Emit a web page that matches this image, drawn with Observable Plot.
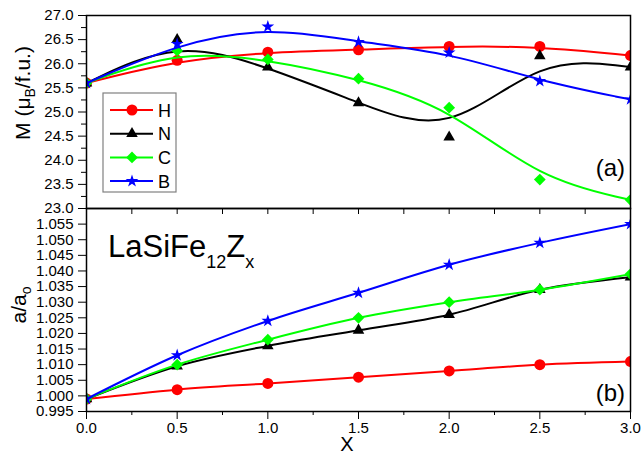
<!DOCTYPE html>
<html><head><meta charset="utf-8">
<script src="https://cdn.jsdelivr.net/npm/d3@7"></script>
<script src="https://cdn.jsdelivr.net/npm/@observablehq/plot@0.6"></script>
<style>
html,body{margin:0;padding:0;background:#fff;}
#chart{position:relative;width:641px;height:454px;overflow:hidden;font-family:"Liberation Sans",Arial,Helvetica,sans-serif;}
#chart svg{position:absolute;left:0;overflow:visible;}
</style></head><body><div id="chart"></div>
<script>
// ---- data ----
const xValues = [0, 0.5, 1.0, 1.5, 2.0, 2.5, 3.0];
const series = ["H", "N", "C", "B"];
// panel (a): magnetic moment M (muB/f.u.)
const mH = [25.60, 26.07, 26.24, 26.29, 26.36, 26.36, 26.17];
const mN = [25.60, 26.50, 25.93, 25.19, 24.48, 26.16, 25.93];
const mC = [25.60, 26.27, 26.09, 25.69, 25.09, 23.60, 23.18];
const mB = [25.60, 26.41, 26.77, 26.45, 26.23, 25.64, 25.26];
// panel (b): a/a0
const aH = [0.999, 1.002, 1.004, 1.006, 1.008, 1.010, 1.011];
const aN = [0.999, 1.0095, 1.016, 1.021, 1.026, 1.034, 1.038];
const aC = [0.999, 1.010, 1.018, 1.025, 1.030, 1.034, 1.039];
const aB = [0.999, 1.013, 1.024, 1.033, 1.042, 1.049, 1.055];
// ticks
const xTicks = [0, 0.5, 1.0, 1.5, 2.0, 2.5, 3.0];
const xMinorTicks = [0.25, 0.75, 1.25, 1.75, 2.25, 2.75];
const mTicks = [23.0, 23.5, 24.0, 24.5, 25.0, 25.5, 26.0, 26.5, 27.0];
const mMinorTicks = [23.25, 23.75, 24.25, 24.75, 25.25, 25.75, 26.25, 26.75];
const aTicks = [0.995, 1.000, 1.005, 1.010, 1.015, 1.020, 1.025, 1.030, 1.035, 1.040, 1.045, 1.050, 1.055];

// ---- styles ----
const colors = ["#ff0000", "#000000", "#00ff00", "#0000ff"];
const symbols = ["circle", "triangle", "diamond2", "star"];
const dotR = [5.5, 4.3, 5.3, 4.0];
const FONT = '"Liberation Sans", Arial, Helvetica, sans-serif';

function toRows(arrs) {
  const rows = [];
  series.forEach((s, i) => arrs[i].forEach((v, j) => rows.push({series: s, x: xValues[j], y: v})));
  return rows;
}
const topData = toRows([mH, mN, mC, mB]);
const botData = toRows([aH, aN, aC, aB]);

function seriesMarks(data, curve) {
  const marks = [];
  series.forEach((s, i) => {
    const d = data.filter(r => r.series === s);
    marks.push(Plot.line(d, {x: "x", y: "y", stroke: "series", curve, strokeWidth: 2, clip: true}));
    marks.push(Plot.dot(d, {x: "x", y: "y", fill: "series", symbol: "series", r: dotR[i], clip: true}));
  });
  return marks;
}

const common = {
  width: 641, marginLeft: 86, marginRight: 11,
  x: {domain: [0, 3]},
  color: {domain: series, range: colors},
  symbol: {domain: series, range: symbols},
  style: {fontFamily: FONT, fontSize: "15px", color: "#000", background: "transparent", overflow: "visible"}
};

const topSvg = Plot.plot({
  ...common, height: 208, marginTop: 15, marginBottom: 0,
  y: {domain: [23, 27]},
  marks: [
    ...seriesMarks(topData, "basis"),
    Plot.axisY({ticks: mTicks, tickSize: 8, tickPadding: 5, tickFormat: d3.format(".1f"), label: null, fontSize: 15}),
    Plot.axisY({ticks: mMinorTicks, tickSize: 5, tickFormat: () => "", label: null}),
    Plot.axisX({ticks: xTicks, tickSize: 6, tickFormat: () => "", label: null}),
    Plot.axisX({ticks: xMinorTicks, tickSize: 6, tickFormat: () => "", label: null}),
    Plot.frame({stroke: "#000", strokeWidth: 1.5})
  ]
});

const botSvg = Plot.plot({
  ...common, height: 246, marginTop: 0, marginBottom: 43,
  y: {domain: [0.995, 1.060]},
  marks: [
    ...seriesMarks(botData, "catmull-rom"),
    Plot.axisY({ticks: aTicks, tickSize: 8, tickPadding: 5, tickFormat: d3.format(".3f"), label: null, fontSize: 15}),
    Plot.axisX({ticks: xTicks, tickSize: 8, tickPadding: 3, tickFormat: d3.format(".1f"), label: null, fontSize: 15}),
    Plot.axisX({ticks: xMinorTicks, tickSize: 4, tickFormat: () => "", label: null}),
    Plot.frame({stroke: "#000", strokeWidth: 1.5})
  ]
});

const chart = document.getElementById("chart");
topSvg.style.top = "0px";
botSvg.style.top = "208px";
chart.appendChild(botSvg);
chart.appendChild(topSvg);

// ---- annotations ----
const ts = d3.select(topSvg);
const mt = ts.append("text").attr("transform", "translate(30,93) rotate(-90)")
  .attr("text-anchor", "middle").attr("font-size", 21).attr("fill", "#000");
mt.append("tspan").text("M (\u03bc");
mt.append("tspan").attr("font-size", 14).attr("dy", 5).text("B");
mt.append("tspan").attr("dy", -5).text("/f.u.)");
ts.append("text").attr("x", 625).attr("y", 176).attr("text-anchor", "end")
  .attr("font-size", 24).attr("fill", "#000").text("(a)");

// legend
const lg = ts.append("g").attr("transform", "translate(103,93)");
lg.append("rect").attr("width", 73).attr("height", 99).attr("fill", "#fff")
  .attr("stroke", "#808080").attr("stroke-width", 1.2);
const symMap = {circle: d3.symbolCircle, triangle: d3.symbolTriangle, diamond2: d3.symbolDiamond2, star: d3.symbolStar};
series.forEach((s, i) => {
  const g = lg.append("g").attr("transform", `translate(0,${17 + i * 23.7})`);
  g.append("line").attr("x1", 7).attr("x2", 50).attr("stroke", colors[i]).attr("stroke-width", 2);
  g.append("path").attr("transform", "translate(29,0)")
    .attr("d", d3.symbol(symMap[symbols[i]], Math.PI * dotR[i] * dotR[i])()).attr("fill", colors[i]);
  g.append("text").attr("x", 55).attr("y", 6.5).attr("text-anchor", "start")
    .attr("font-size", 18).attr("fill", "#000").text(s);
});

const bs = d3.select(botSvg);
const at = bs.append("text").attr("transform", "translate(26,97) rotate(-90)")
  .attr("text-anchor", "middle").attr("font-size", 21).attr("fill", "#000");
at.append("tspan").text("a/a");
at.append("tspan").attr("font-size", 14).attr("dy", 5).text("o");
bs.append("text").attr("x", 625).attr("y", 193).attr("text-anchor", "end")
  .attr("font-size", 24).attr("fill", "#000").text("(b)");
const lt = bs.append("text").attr("x", 108).attr("y", 49).attr("text-anchor", "start")
  .attr("font-size", 31).attr("fill", "#000");
lt.append("tspan").text("LaSiFe");
lt.append("tspan").attr("font-size", 18).attr("dy", 11).text("12");
lt.append("tspan").attr("dy", -11).text("Z");
lt.append("tspan").attr("font-size", 18).attr("dy", 11).text("x");
bs.append("text").attr("x", 347).attr("y", 243).attr("text-anchor", "middle")
  .attr("font-size", 20).attr("fill", "#000").text("X");
</script>
</body></html>
